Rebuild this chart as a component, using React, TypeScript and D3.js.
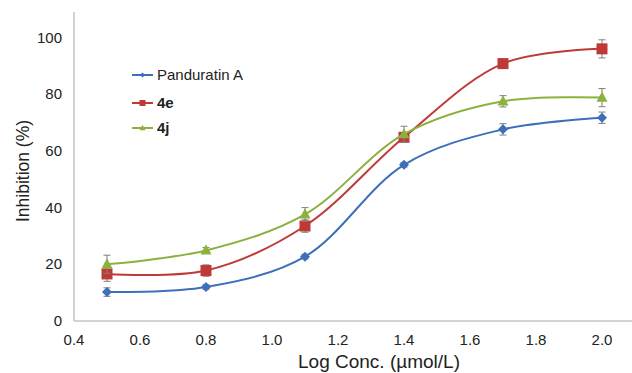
import React, { useEffect, useRef } from 'react';
import * as d3 from 'd3';

const logConc = [0.5, 0.8, 1.1, 1.4, 1.7, 2.0];
const panduratin = [10.2, 12.0, 22.7, 55.1, 67.6, 71.7];
const panduratinErr = [1.5, 0.8, 0.8, 0.8, 2.0, 2.0];
const e4 = [16.6, 17.8, 33.5, 64.8, 90.8, 96.0];
const e4Err = [2.6, 2.0, 2.2, 1.2, 0.8, 3.2];
const j4 = [20.0, 24.9, 37.6, 65.9, 77.5, 78.8];
const j4Err = [3.2, 1.0, 2.4, 2.8, 2.0, 3.2];
const xTicks = [0.4, 0.6, 0.8, 1.0, 1.2, 1.4, 1.6, 1.8, 2.0];
const yTicks = [0, 20, 40, 60, 80, 100];

const series = [
    { name: 'Panduratin A', values: panduratin, err: panduratinErr, color: '#3d6fbb', marker: 'diamond', bold: false },
    { name: '4e', values: e4, err: e4Err, color: '#bf3a36', marker: 'square', bold: true },
    { name: '4j', values: j4, err: j4Err, color: '#8cb13f', marker: 'triangle', bold: true },
];

const width = 632;
const height = 373;

const App: React.FC = () => {
    const svgRef = useRef<SVGSVGElement | null>(null);

    useEffect(() => {
        const svg = d3.select(svgRef.current);
        svg.selectAll('*').remove();

        const x = d3.scaleLinear().domain([0.4, 2.1]).range([74, 635]);
        const y = d3.scaleLinear().domain([0, 109]).range([321, 12]);
        const font = 'Liberation Sans, Arial, sans-serif';

        // axes lines
        svg.append('line')
            .attr('x1', x(0.4)).attr('x2', width)
            .attr('y1', y(0)).attr('y2', y(0))
            .attr('stroke', '#c4c4c4').attr('stroke-width', 1.5);
        svg.append('line')
            .attr('x1', x(0.4)).attr('x2', x(0.4))
            .attr('y1', y(0)).attr('y2', y(109))
            .attr('stroke', '#c4c4c4').attr('stroke-width', 1.5);

        svg.append('g').selectAll('text').data(yTicks).enter().append('text')
            .attr('x', 62).attr('y', d => y(d) + 5)
            .attr('text-anchor', 'end')
            .attr('font-family', font).attr('font-size', 15).attr('fill', '#222')
            .text(d => d);

        svg.append('g').selectAll('text').data(xTicks).enter().append('text')
            .attr('x', d => x(d)).attr('y', 345)
            .attr('text-anchor', 'middle')
            .attr('font-family', font).attr('font-size', 15).attr('fill', '#222')
            .text(d => d.toFixed(1));

        svg.append('text')
            .attr('x', 379).attr('y', 368)
            .attr('text-anchor', 'middle')
            .attr('font-family', font).attr('font-size', 19).attr('fill', '#222')
            .text('Log Conc. (µmol/L)');

        svg.append('text')
            .attr('transform', `translate(29, 171) rotate(-90)`)
            .attr('text-anchor', 'middle')
            .attr('font-family', font).attr('font-size', 17.5).attr('fill', '#222')
            .text('Inhibition (%)');

        const line = d3.line<number>()
            .x((d, i) => x(logConc[i]))
            .y(d => y(d))
            .curve(d3.curveCatmullRom.alpha(0.5));

        const drawMarker = (g: any, type: string, cx: number, cy: number, color: string, size: number) => {
            if (type === 'diamond') {
                g.append('path')
                    .attr('d', `M${cx},${cy - size}L${cx + size},${cy}L${cx},${cy + size}L${cx - size},${cy}Z`)
                    .attr('fill', color);
            } else if (type === 'square') {
                g.append('rect')
                    .attr('x', cx - size).attr('y', cy - size)
                    .attr('width', size * 2).attr('height', size * 2)
                    .attr('fill', color);
            } else {
                g.append('path')
                    .attr('d', `M${cx},${cy - size * 1.1}L${cx + size},${cy + size * 0.75}L${cx - size},${cy + size * 0.75}Z`)
                    .attr('fill', color);
            }
        };

        series.forEach(s => {
            const g = svg.append('g');
            g.append('path')
                .attr('d', line(s.values))
                .attr('fill', 'none')
                .attr('stroke', s.color)
                .attr('stroke-width', 2);

            s.values.forEach((v, i) => {
                const cx = x(logConc[i]);
                const top = y(v + s.err[i]);
                const bot = y(v - s.err[i]);
                g.append('line').attr('x1', cx).attr('x2', cx).attr('y1', top).attr('y2', bot)
                    .attr('stroke', '#7f7f7f').attr('stroke-width', 1);
                [top, bot].forEach(yy => {
                    g.append('line').attr('x1', cx - 3.5).attr('x2', cx + 3.5).attr('y1', yy).attr('y2', yy)
                        .attr('stroke', '#7f7f7f').attr('stroke-width', 1);
                });
                drawMarker(g, s.marker, cx, y(v), s.color, s.marker === 'diamond' ? 5 : 5.5);
            });
        });

        // legend
        const legend = svg.append('g');
        series.forEach((s, i) => {
            const ly = [75, 103, 128][i];
            legend.append('line')
                .attr('x1', 132).attr('x2', 153).attr('y1', ly).attr('y2', ly)
                .attr('stroke', s.color).attr('stroke-width', 2);
            drawMarker(legend, s.marker, 142.5, ly, s.color, s.marker === 'diamond' ? 2.5 : 3);
            legend.append('text')
                .attr('x', 157).attr('y', ly + 5)
                .attr('font-family', font).attr('font-size', 15)
                .attr('font-weight', s.bold ? 'bold' : 'normal')
                .attr('fill', '#222')
                .text(s.name);
        });
    }, []);

    return (
        <svg ref={svgRef} width={width} height={height}
            style={{ position: 'absolute', left: 0, top: 0, background: '#fff' }} />
    );
};

export default App;
